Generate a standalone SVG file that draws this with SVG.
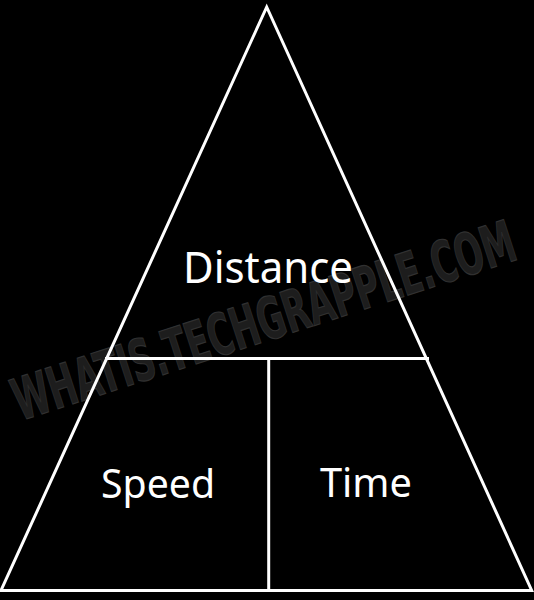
<svg xmlns="http://www.w3.org/2000/svg" width="534" height="600" viewBox="0 0 534 600">
  <style>
    .line { stroke: #ffffff; stroke-width: 3; fill: none; stroke-linecap: butt; stroke-linejoin: miter; }
    .label { fill: #ffffff; font-family: "Noto Sans", "Open Sans", sans-serif; font-weight: 400; text-anchor: start; }
    .wm { fill: #1d1d1d; stroke: #303030; stroke-width: 1.2; font-family: "DejaVu Sans", sans-serif; font-weight: bold; text-anchor: middle; }
  </style>
  <rect x="0" y="0" width="534" height="600" fill="#000000"/>
  <g id="watermark">
    <text class="wm" transform="translate(270,340) rotate(-18)" x="0" y="0" font-size="58" textLength="525" lengthAdjust="spacingAndGlyphs">WHATIS.TECHGRAPPLE.COM</text>
  </g>
  <g id="connectors">
    <polygon class="line" points="266.7,7 531.7,590.5 1,590.5"/>
    <line class="line" x1="105" y1="358.5" x2="429" y2="358.5"/>
    <line class="line" x1="268.7" y1="358.5" x2="268.7" y2="590.5"/>
  </g>
  <g id="distance">
    <text class="label" x="183" y="283" font-size="44" textLength="170" lengthAdjust="spacingAndGlyphs">Distance</text>
  </g>
  <g id="speed">
    <text class="label" x="101" y="498" font-size="40" textLength="114" lengthAdjust="spacingAndGlyphs">Speed</text>
  </g>
  <g id="time">
    <text class="label" x="320" y="497" font-size="40" textLength="92" lengthAdjust="spacingAndGlyphs">Time</text>
  </g>
</svg>
